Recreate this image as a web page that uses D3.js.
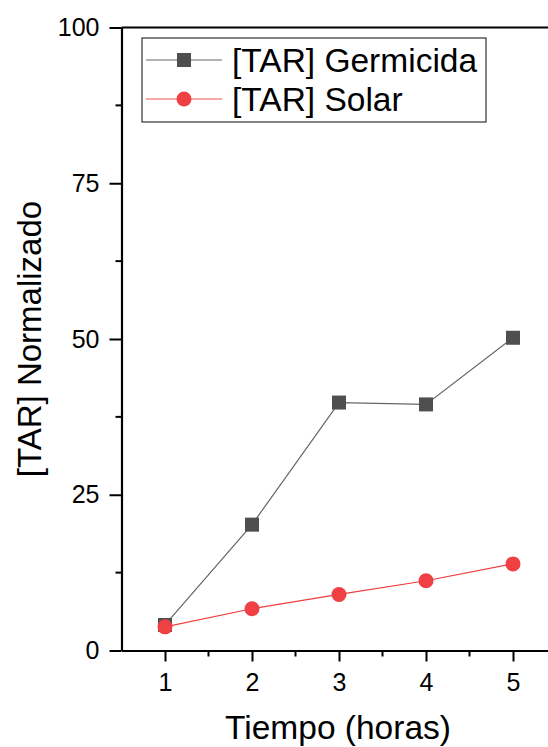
<!DOCTYPE html>
<html><head><meta charset="utf-8">
<script src="https://cdn.jsdelivr.net/npm/d3@7"></script>
<style>body{margin:0;background:#fff}svg{display:block}text{font-family:"Liberation Sans",Arial,sans-serif;fill:#000}</style>
</head><body>
<script>
const hours = [1, 2, 3, 4, 5];
const germicida = [4.1, 20.2, 39.8, 39.5, 50.2];
const solar = [3.8, 6.7, 9.0, 11.2, 13.9];
const seriesNames = ["[TAR] Germicida", "[TAR] Solar"];
const xTicks = [1, 2, 3, 4, 5];
const yTicks = [0, 25, 50, 75, 100];
const xLabel = "Tiempo (horas)";
const yLabel = "[TAR] Normalizado";

const W = 548, H = 747;
const FONT = "'Liberation Sans', Arial, sans-serif";
const svg = d3.select("body").append("svg").attr("width", W).attr("height", H);
const x = d3.scaleLinear().domain([0.5, 5.5]).range([121.5, 556.5]);
const y = d3.scaleLinear().domain([0, 100]).range([650.5, 27.5]);

// top frame line
svg.append("line").attr("x1", 121.5).attr("x2", W).attr("y1", y(100)).attr("y2", y(100))
  .attr("stroke", "#000").attr("stroke-width", 2);

// minor ticks
const xMinor = d3.range(1.5, 5.6, 1);
svg.append("g").selectAll("line").data(xMinor).join("line")
  .attr("x1", d => x(d)).attr("x2", d => x(d)).attr("y1", y(0)).attr("y2", y(0) + 6)
  .attr("stroke", "#000").attr("stroke-width", 2);
const yMinor = d3.range(12.5, 100, 25);
svg.append("g").selectAll("line").data(yMinor).join("line")
  .attr("x1", 121.5).attr("x2", 115.5).attr("y1", d => y(d)).attr("y2", d => y(d))
  .attr("stroke", "#000").attr("stroke-width", 2);

// x axis
const xa = svg.append("g").attr("transform", `translate(0,${y(0)})`)
  .call(d3.axisBottom(x).tickValues(xTicks).tickFormat(d3.format("d")).tickSize(11).tickPadding(12).tickSizeOuter(0));
xa.attr("font-family", FONT).attr("font-size", 25);
xa.select(".domain").attr("stroke-width", 2.2);
xa.selectAll(".tick line").attr("stroke-width", 2);

// y axis
const ya = svg.append("g").attr("transform", `translate(121.5,0)`)
  .call(d3.axisLeft(y).tickValues(yTicks).tickFormat(d3.format("d")).tickSize(12).tickPadding(10).tickSizeOuter(0));
ya.attr("font-family", FONT).attr("font-size", 25);
ya.select(".domain").attr("stroke-width", 2.2);
ya.selectAll(".tick line").attr("stroke-width", 2);

// lines
const line = d3.line().x((d, i) => x(hours[i])).y(d => y(d));
svg.append("path").datum(germicida).attr("d", line).attr("fill", "none").attr("stroke", "#666").attr("stroke-width", 1.2);
svg.append("path").datum(solar).attr("d", line).attr("fill", "none").attr("stroke", "#f03c3c").attr("stroke-width", 1.2);

// markers
svg.append("g").selectAll("rect").data(germicida).join("rect")
  .attr("x", (d, i) => x(hours[i]) - 7).attr("y", d => y(d) - 7)
  .attr("width", 14).attr("height", 14).attr("fill", "#4f4f4f");
svg.append("g").selectAll("circle").data(solar).join("circle")
  .attr("cx", (d, i) => x(hours[i])).attr("cy", d => y(d)).attr("r", 7.5).attr("fill", "#ef4044");

// legend
const lg = svg.append("g");
lg.append("rect").attr("x", 142).attr("y", 38).attr("width", 344).attr("height", 84)
  .attr("fill", "#fff").attr("stroke", "#333").attr("stroke-width", 1.2);
const rows = [60, 99];
lg.append("line").attr("x1", 146).attr("x2", 222).attr("y1", rows[0]).attr("y2", rows[0]).attr("stroke", "#999").attr("stroke-width", 1.5);
lg.append("rect").attr("x", 184 - 7).attr("y", rows[0] - 7).attr("width", 14).attr("height", 14).attr("fill", "#4f4f4f");
lg.append("line").attr("x1", 146).attr("x2", 222).attr("y1", rows[1]).attr("y2", rows[1]).attr("stroke", "#f58a8a").attr("stroke-width", 1.5);
lg.append("circle").attr("cx", 184).attr("cy", rows[1]).attr("r", 7.5).attr("fill", "#ef4044");
lg.selectAll("text").data(seriesNames).join("text")
  .attr("x", 232).attr("y", (d, i) => rows[i]).attr("dy", "0.35em")
  .attr("font-size", 33.5).text(d => d);

// axis titles
svg.append("text").attr("x", 338).attr("y", 739).attr("text-anchor", "middle")
  .attr("font-size", 33.5).text(xLabel);
svg.append("text").attr("transform", "translate(41,339) rotate(-90)").attr("text-anchor", "middle")
  .attr("font-size", 33).text(yLabel);
</script>
</body></html>
